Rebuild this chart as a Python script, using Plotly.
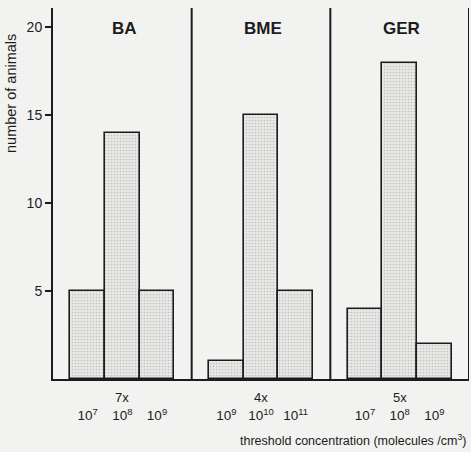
import plotly.graph_objects as go

groups = ["BA", "BME", "GER"]
multipliers = ["7x", "4x", "5x"]
exponents = [[7, 8, 9], [9, 10, 11], [7, 8, 9]]
counts = [[5, 14, 5], [1, 15, 5], [4, 18, 2]]
y_ticks = [5, 10, 15, 20]

FONT = "Liberation Sans, Arial, sans-serif"
INK = "#1c1c1c"
BG = "#f2f2f0"

plot_top, plot_bot, H = 8, 379, 452
plot_h = plot_bot - plot_top


def py(pixel_y):
    return (plot_bot - pixel_y) / plot_h


xs, ys, ticktext = [], [], []
for g, (exps, vals) in enumerate(zip(exponents, counts)):
    for i, (e, v) in enumerate(zip(exps, vals)):
        xs.append(g * 4 + i + 1)
        ys.append(v)
        ticktext.append(f"10<sup>{e}</sup>")

fig = go.Figure()
fig.add_trace(go.Bar(
    x=xs, y=ys, width=1.0,
    marker=dict(color="#e6e6e4",
                line=dict(color=INK, width=1.6),
                pattern=dict(shape=".", fgcolor="#9a9a9a", bgcolor="#e8e8e6",
                             size=3, solidity=0.25)),
    showlegend=False, hoverinfo="skip",
))

annotations = []
for g, name in enumerate(groups):
    annotations.append(dict(x=g * 4 + 2.05, y=py(29), xref="x", yref="paper", text=f"<b>{name}</b>",
                            showarrow=False, font=dict(family=FONT, size=17, color=INK),
                            xanchor="center", yanchor="middle"))
    annotations.append(dict(x=g * 4 + 2, y=py(397), xref="x", yref="paper", text=multipliers[g],
                            showarrow=False, xanchor="center", yanchor="middle",
                            font=dict(family=FONT, size=13, color=INK)))

annotations.append(dict(x=1.0, y=py(440), xref="paper", yref="paper",
                        text="threshold concentration (molecules /cm<sup>3</sup>)", showarrow=False,
                        xanchor="right", yanchor="middle",
                        font=dict(family=FONT, size=12.5, color=INK)))
annotations.append(dict(x=(11 - 53) / 416, y=py(94), xref="paper", yref="paper",
                        text="number of animals", textangle=-90, showarrow=False,
                        xanchor="center", yanchor="middle",
                        font=dict(family=FONT, size=14.5, color=INK)))

shapes = []
for g in range(1, len(groups) + 1):
    shapes.append(dict(type="line", xref="x", yref="paper", x0=g * 4, x1=g * 4, y0=0, y1=1,
                       line=dict(color=INK, width=2)))

fig.update_layout(
    width=471, height=452,
    margin=dict(l=53, r=2, t=plot_top, b=H - plot_bot),
    paper_bgcolor=BG, plot_bgcolor=BG,
    bargap=0,
    annotations=annotations, shapes=shapes,
    xaxis=dict(range=[0, 12], tickmode="array", tickvals=xs, ticktext=ticktext,
               showgrid=False, zeroline=False, showline=True, linecolor=INK, linewidth=2,
               ticks="", ticklabelstandoff=23,
               tickfont=dict(family=FONT, size=13.5, color=INK)),
    yaxis=dict(range=[0, 21.1], tickmode="array", tickvals=y_ticks,
               showgrid=False, zeroline=False, showline=True, linecolor=INK, linewidth=2,
               ticks="outside", ticklen=6, tickwidth=1.5, tickcolor=INK,
               tickfont=dict(family=FONT, size=14, color=INK)),
)

fig.write_html("out.html")
